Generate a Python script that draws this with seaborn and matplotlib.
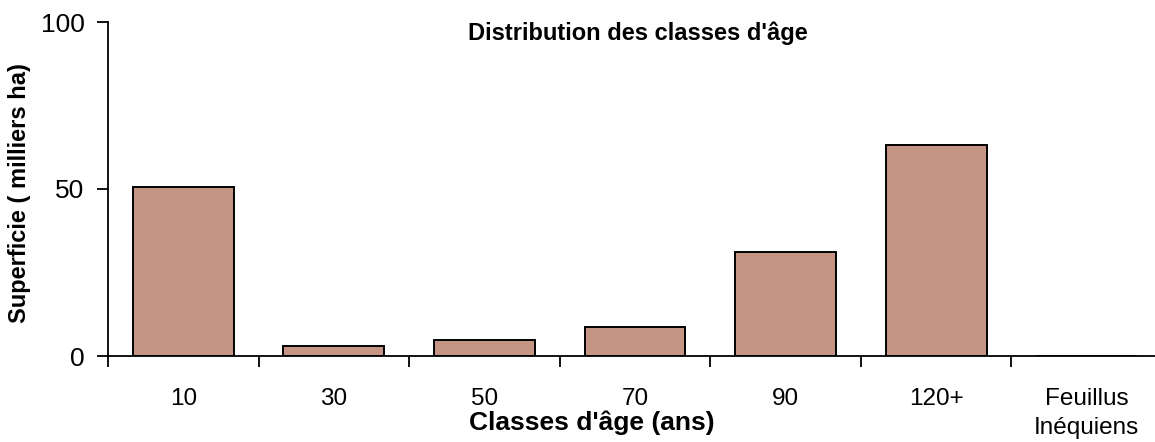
import numpy as np
import pandas as pd
import matplotlib
matplotlib.use("Agg")
import matplotlib.pyplot as plt
import seaborn as sns

# classes d'âge et superficies (milliers ha)
categories = ["10", "30", "50", "70", "90", "120+", "Feuillus\nInéquiens"]
values = [50.5, 3.0, 4.8, 8.7, 31.2, 63.3, 0.0]

df = pd.DataFrame({"classe": categories, "superficie": values})

sns.set_style("ticks")
plt.rcParams["font.family"] = ["Liberation Sans", "DejaVu Sans"]
plt.rcParams["text.color"] = "black"
plt.rcParams["xtick.color"] = "black"
plt.rcParams["ytick.color"] = "black"

fig = plt.figure(figsize=(11.55, 4.42), dpi=100)
ax = fig.add_axes([108 / 1155, 86 / 442, 1054 / 1155, 334 / 442])

sns.barplot(data=df, x="classe", y="superficie", order=categories,
            color="#C49585", saturation=1, edgecolor="black",
            linewidth=1.4, width=0.67, ax=ax)

ax.set_xlim(-0.5, len(categories) - 0.5)
ax.set_ylim(0, 100)
ax.set_yticks([0, 50, 100])

# ticks between categories, labels at centres
ax.set_xticks(np.arange(-0.5, len(categories), 1))
ax.set_xticklabels([])
ax.set_xticks(np.arange(len(categories)), minor=True)
ax.set_xticklabels(categories, minor=True, fontsize=17.5, linespacing=1.4)
ax.tick_params(axis="x", which="minor", length=0, pad=23, labelcolor="black")
ax.tick_params(axis="x", which="major", length=8, width=1.3, color="black", direction="out")
ax.tick_params(axis="y", length=8, width=1.3, color="black", labelsize=19, pad=9,
               labelcolor="black")

for s in ["top", "right"]:
    ax.spines[s].set_visible(False)
for s in ["left", "bottom"]:
    ax.spines[s].set_color("black")
    ax.spines[s].set_linewidth(1.3)

ax.set_xlabel("")
ax.set_ylabel("")

fig.text(638 / 1155, 1 - 33 / 442, "Distribution des classes d'âge",
         ha="center", va="center", fontsize=17, fontweight="bold", color="black")
fig.text(592 / 1155, 1 - 423 / 442, "Classes d'âge (ans)",
         ha="center", va="center", fontsize=19, fontweight="bold", color="black")
fig.text(20 / 1155, 1 - 193 / 442, "Superficie ( milliers ha)",
         ha="center", va="center", rotation=90, fontsize=17, fontweight="bold",
         color="black")

fig.savefig("out.png", dpi=100)
